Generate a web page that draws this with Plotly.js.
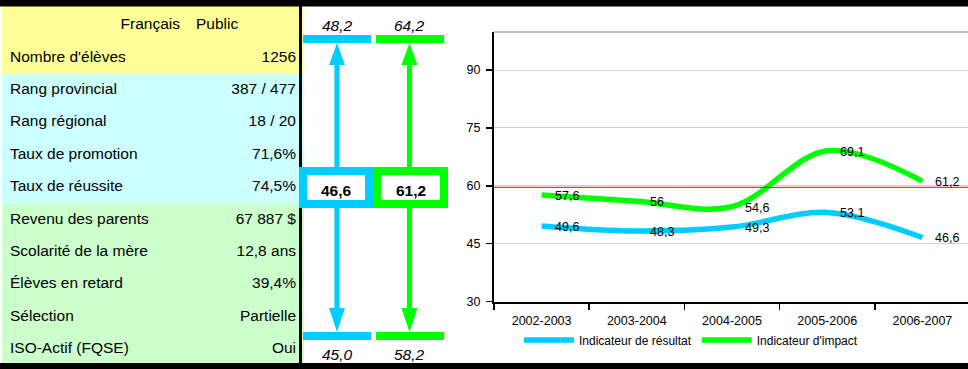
<!DOCTYPE html>
<html><head><meta charset="utf-8">
<script src="https://cdn.plot.ly/plotly-3.0.1.min.js"></script>
<style>html,body{margin:0;padding:0;overflow:hidden;background:#fff}#chart{width:976px;height:369px}</style>
</head><body><div id="chart"></div><script>
// ---- data ----
const years = ['2002-2003', '2003-2004', '2004-2005', '2005-2006', '2006-2007'];
const resultat = [49.6, 48.3, 49.3, 53.1, 46.6];
const impact = [57.6, 56, 54.6, 69.1, 61.2];
const referenceLine = 59.6;
const seriesNames = ['Indicateur de résultat', "Indicateur d'impact"];
const yTicks = [30, 45, 60, 75, 90];

const headerCells = ['Français', 'Public'];
const rowLabels = ["Nombre d'élèves", 'Rang provincial', 'Rang régional', 'Taux de promotion', 'Taux de réussite',
  'Revenu des parents', 'Scolarité de la mère', 'Élèves en retard', 'Sélection', 'ISO-Actif (FQSE)'];
const rowValues = ['1256', '387 / 477', '18 / 20', '71,6%', '74,5%', '67 887 $', '12,8 ans', '39,4%', 'Partielle', 'Oui'];
const rowGroups = ['ecole', 'rang', 'rang', 'rang', 'rang', 'milieu', 'milieu', 'milieu', 'milieu', 'milieu'];

const gaugeMax = [48.2, 64.2];
const gaugeNow = [46.6, 61.2];
const gaugeMin = [45.0, 58.2];

// ---- styles ----
const W = 976, H = 369;
const px = x => x / W, py = y => 1 - y / H;
const FONT = 'Liberation Sans, Arial, sans-serif';
const BLUE = '#00CCFF', GREEN = '#00FF00';
const groupColor = {ecole: '#FFFF99', rang: '#CCFFFF', milieu: '#CCFFCC'};
const fmt = v => String(v).replace('.', ',');
const fmt1 = v => v.toFixed(1).replace('.', ',');

const rowFill = rowGroups.map(g => groupColor[g]);

const traces = [
  {
    type: 'table',
    domain: {x: [px(2), px(304)], y: [py(368), py(9)]},
    columnwidth: [186, 116],
    header: {
      values: headerCells, align: ['right', 'left'], height: 33,
      fill: {color: groupColor.ecole}, line: {width: 0, color: groupColor.ecole},
      font: {family: FONT, size: 15.5, color: '#000'}
    },
    cells: {
      values: [rowLabels, rowValues], align: ['left', 'right'], height: 32.4,
      fill: {color: [rowFill, rowFill]}, line: {width: 0, color: [rowFill, rowFill]},
      font: {family: FONT, size: 15.5, color: '#000'}
    }
  },
  {
    type: 'scatter', mode: 'lines', x: years, y: resultat, name: seriesNames[0],
    line: {color: BLUE, width: 5.5, shape: 'spline', smoothing: 1}, hoverinfo: 'skip'
  },
  {
    type: 'scatter', mode: 'lines', x: years, y: impact, name: seriesNames[1],
    line: {color: GREEN, width: 5.5, shape: 'spline', smoothing: 1}, hoverinfo: 'skip'
  }
];

const shapes = [];
const annotations = [];
function rect(x0, y0, x1, y1, fill) {
  shapes.push({type: 'rect', xref: 'paper', yref: 'paper', x0: px(x0), x1: px(x1), y0: py(y1), y1: py(y0),
    fillcolor: fill, line: {width: 0}, layer: 'above'});
}
function tri(pts, fill) {
  const d = pts.map((p, i) => (i ? 'L' : 'M') + px(p[0]) + ',' + py(p[1])).join(' ') + ' Z';
  shapes.push({type: 'path', xref: 'paper', yref: 'paper', path: d, fillcolor: fill, line: {width: 0}, layer: 'above'});
}
function label(x, y, text, size) {
  annotations.push({xref: 'paper', yref: 'paper', x: px(x), y: py(y), text: text, showarrow: false,
    xanchor: 'center', yanchor: 'middle', font: {family: FONT, size: size || 15.5, color: '#000'}});
}

// header strip above the table + frame bands
rect(2, 6, 299, 9.5, groupColor.ecole);
rect(0, 0, W, 6.5, '#000');
rect(0, 363, W, H, '#000');
rect(299, 6, 302, 363, '#000');

// gauges
const gaugeColors = [BLUE, GREEN];
const cx = [337, 409.5];
const barX = [[303, 371], [376, 444]];
const boxX = [[299, 373], [373, 448]];
for (let i = 0; i < 2; i++) {
  const c = gaugeColors[i];
  rect(barX[i][0], 35, barX[i][1], 43, c);
  rect(barX[i][0], 332, barX[i][1], 340, c);
  rect(cx[i] - 2.6, 64, cx[i] + 2.6, 168, c);
  rect(cx[i] - 2.6, 207, cx[i] + 2.6, 309, c);
  tri([[cx[i], 43], [cx[i] - 8, 65], [cx[i] + 8, 65]], c);
  tri([[cx[i], 332], [cx[i] - 8, 308], [cx[i] + 8, 308]], c);
  shapes.push({type: 'rect', xref: 'paper', yref: 'paper', x0: px(boxX[i][0] + 4), x1: px(boxX[i][1] - 4),
    y0: py(204), y1: py(171), fillcolor: '#fff', line: {color: c, width: 8}, layer: 'above'});
  label(cx[i], 26, '<i>' + fmt1(gaugeMax[i]) + '</i>');
  label((boxX[i][0] + boxX[i][1]) / 2, 190, '<b>' + fmt1(gaugeNow[i]) + '</b>');
  label(cx[i], 354, '<i>' + fmt1(gaugeMin[i]) + '</i>');
}

// chart decorations
shapes.push({type: 'line', xref: 'x domain', yref: 'y', x0: 0, x1: 1, y0: 100, y1: 100,
  line: {color: '#808080', width: 2}});
shapes.push({type: 'line', xref: 'x domain', yref: 'y', x0: 0, x1: 1, y0: referenceLine, y1: referenceLine,
  line: {color: '#FF0000', width: 1}});

// data labels
[resultat, impact].forEach(series => {
  series.forEach((v, i) => {
    annotations.push({xref: 'x', yref: 'y', x: years[i], y: v, text: fmt(v), showarrow: false,
      xanchor: 'left', yanchor: 'middle', xshift: 11, yshift: -1, font: {family: FONT, size: 12.5, color: '#000'}});
  });
});

const layout = {
  width: W, height: H,
  margin: {l: 0, r: 0, t: 0, b: 0, pad: 0},
  paper_bgcolor: '#fff', plot_bgcolor: '#fff',
  font: {family: FONT, size: 12.5, color: '#000'},
  showlegend: true,
  legend: {orientation: 'h', x: px(691), xanchor: 'center', y: py(340), yanchor: 'middle',
    font: {family: FONT, size: 12, color: '#000'}, itemwidth: 50, bgcolor: 'rgba(0,0,0,0)', traceorder: 'normal'},
  xaxis: {
    domain: [px(494), px(970)], type: 'category', range: [-0.5, 4.5], fixedrange: true,
    showline: true, linecolor: '#000', linewidth: 2, ticks: 'outside', ticklen: 6, tickwidth: 1.5,
    tickcolor: '#000', tickson: 'boundaries', showgrid: false, zeroline: false, automargin: false,
    tickfont: {family: FONT, size: 12.5, color: '#000'}, ticklabelstandoff: 6
  },
  yaxis: {
    domain: [py(301.5), py(31.5)], range: [30, 100], fixedrange: true,
    tickvals: yTicks, ticktext: yTicks.map(String),
    showline: true, linecolor: '#000', linewidth: 2, ticks: 'outside', ticklen: 6, tickwidth: 1.5,
    tickcolor: '#000', showgrid: true, gridcolor: '#D0D0D0', gridwidth: 1, zeroline: false, automargin: false,
    tickfont: {family: FONT, size: 12.5, color: '#000'}, ticklabelstandoff: 3
  },
  shapes: shapes,
  annotations: annotations
};

Plotly.newPlot('chart', traces, layout, {displayModeBar: false, staticPlot: true});
</script></body></html>
